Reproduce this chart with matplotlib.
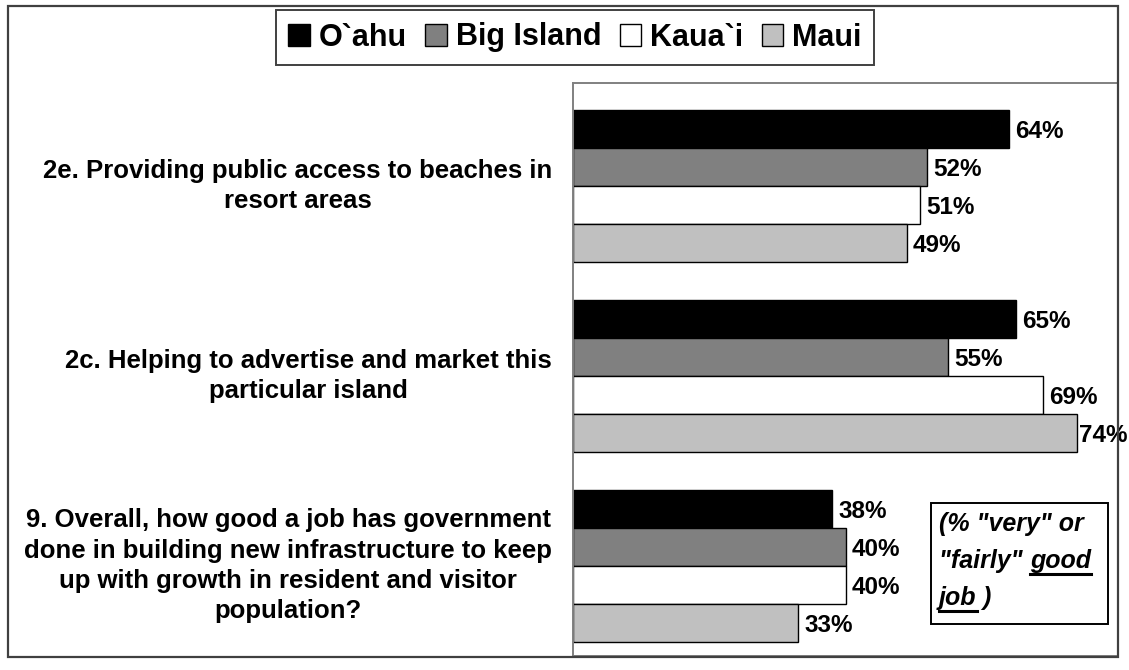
import matplotlib.pyplot as plt
from matplotlib.patches import Rectangle
from matplotlib.lines import Line2D

plt.rcParams['font.family'] = ['Liberation Sans', 'DejaVu Sans']
plt.rcParams['font.weight'] = 'bold'

questions = [
    "2e. Providing public access to beaches in\nresort areas",
    "2c. Helping to advertise and market this\nparticular island",
    "9. Overall, how good a job has government\ndone in building new infrastructure to keep\n"
    "up with growth in resident and visitor\npopulation?",
]
islands = ["O`ahu", "Big Island", "Kaua`i", "Maui"]
oahu = [64, 65, 38]
big_island = [52, 55, 40]
kauai = [51, 69, 40]
maui = [49, 74, 33]
colors = ["#000000", "#808080", "#ffffff", "#c0c0c0"]

W, H = 1129, 670
fig = plt.figure(figsize=(W / 100, H / 100), dpi=100)

# outer frame of the whole chart
fig.patches.append(Rectangle((8 / W, 1 - 657 / H), 1110 / W, 651 / H,
                             transform=fig.transFigure, fill=False,
                             edgecolor="#404040", linewidth=1.6))

ax = fig.add_axes([573 / W, 1 - 656 / H, 545 / W, 573 / H])
bar_h = 0.2
offsets = [-0.3, -0.1, 0.1, 0.3]
series = [oahu, big_island, kauai, maui]

for name, vals, off, col in zip(islands, series, offsets, colors):
    ys = [i + off for i in range(len(questions))]
    ax.barh(ys, vals, height=bar_h, color=col, edgecolor="black",
            linewidth=1.0, label=name)
    for y, v in zip(ys, vals):
        # labels near the right edge hug the bar so they stay inside the frame
        pad = 4.5 if v < 72 else 1
        ax.annotate(f"{v}%", (v, y), xytext=(pad, -2), textcoords="offset points",
                    ha="left", va="center", fontsize=17.5, fontweight="bold",
                    annotation_clip=False, clip_on=False)

ax.set_xlim(0, 80)
ax.set_ylim(2.474, -0.542)
ax.set_xticks([])
ax.set_yticks([i - 0.03 for i in range(len(questions))])
ax.set_yticklabels(questions, fontsize=18.5, fontweight="bold",
                   multialignment="center", linespacing=1.33)
ax.tick_params(axis="y", length=0, pad=15)
for s in ax.spines.values():
    s.set_color("#808080")
    s.set_linewidth(1.4)

leg = fig.legend(loc="center", bbox_to_anchor=(575 / W, 1 - 37.5 / H), ncol=4,
                 prop={"weight": "bold", "size": 22},
                 handlelength=0.7, handleheight=0.7, handletextpad=0.3,
                 columnspacing=0.6, borderpad=0.4, fancybox=False,
                 edgecolor="#404040", framealpha=1)
leg.get_frame().set_linewidth(1.4)

# note box with underlined words
bx0, by0, bx1, by1 = 931, 503, 1108, 624
fig.patches.append(Rectangle((bx0 / W, 1 - by1 / H), (bx1 - bx0) / W, (by1 - by0) / H,
                             transform=fig.transFigure, fill=True, facecolor="white",
                             edgecolor="black", linewidth=1.4))
note_style = dict(fontsize=18, fontweight="bold", fontstyle="italic",
                  ha="left", va="baseline", transform=fig.transFigure)
tx = 939 / W
rows = [(531, '(% "very" or', None), (568, '"fairly" ', "good"), (605, "", "job")]
fig.canvas.draw()
renderer = fig.canvas.get_renderer()
for base_y, plain, under in rows:
    yf = 1 - base_y / H
    xf = tx
    if plain:
        t = fig.text(xf, yf, plain, **note_style)
        bb = t.get_window_extent(renderer)
        xf = bb.x1 / W
    if under:
        u = fig.text(xf, yf, under, **note_style)
        ub = u.get_window_extent(renderer)
        ly = base_y + 6
        fig.lines.append(Line2D([ub.x0 / W, ub.x1 / W], [1 - ly / H, 1 - ly / H],
                                transform=fig.transFigure, color="black", linewidth=2.2))
        if under == "job":
            fig.text(ub.x1 / W, yf, " )", **note_style)

fig.savefig("out.png", dpi=100)
